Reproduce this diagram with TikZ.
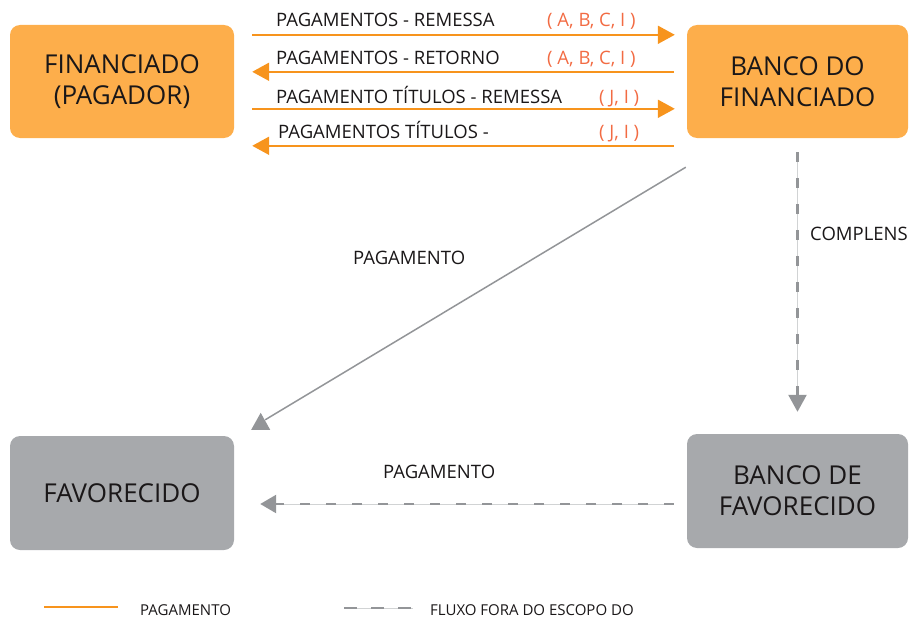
\documentclass[tikz,border=0pt]{standalone}
\usepackage{fontspec}
\setmainfont{Open Sans}
\usetikzlibrary{arrows.meta,calc}
\definecolor{boxor}{HTML}{FDAE4B}
\definecolor{lineor}{HTML}{F7941D}
\definecolor{boxgr}{HTML}{A7A9AC}
\definecolor{linegr}{HTML}{939598}
\definecolor{lightgr}{HTML}{D1D3D4}
\definecolor{redlab}{HTML}{F26B43}
\definecolor{txt}{HTML}{1A1718}
\begin{document}
\begin{tikzpicture}[x=1pt,y=-1pt,
  box/.style={rectangle, rounded corners=10pt, minimum height=113pt, align=center, text=txt, font=\fontsize{26}{31}\selectfont, inner sep=0pt},
  obox/.style={box, fill=boxor},
  gbox/.style={box, fill=boxgr},
  oarr/.style={draw=lineor, line width=2pt, -{Triangle[length=17pt,width=18pt]}},
  garr/.style={draw=linegr, line width=2.5pt, dash pattern=on 10pt off 16pt, -{Triangle[length=17pt,width=18pt]}},
  gthin/.style={draw=lightgr, line width=0.7pt},
  lab/.style={anchor=base west, inner sep=0pt, text=txt, font=\fontsize{18.5}{22}\selectfont},
  rlab/.style={lab, text=redlab},
  leg/.style={anchor=base west, inner sep=0pt, text=txt, font=\fontsize{15}{18}\selectfont}
]
\useasboundingbox (0,0) rectangle (910,618);

% boxes
\node[obox, minimum width=224pt] (fin) at (122,81.5) {FINANCIADO\\(PAGADOR)};
\node[obox, minimum width=221pt] (bf) at (797.5,81.5) {BANCO DO\\FINANCIADO};
\node[gbox, minimum width=224pt, minimum height=114pt] (fav) at (122,493) {FAVORECIDO};
\node[gbox, minimum width=221pt, minimum height=114pt] (bfav) at (797.5,491) {BANCO DE\\FAVORECIDO};

% orange arrows
\draw[oarr, shorten <=18pt, shorten >=12pt] ([yshift=-10pt]fin.north east) -- ([yshift=-10pt]bf.north west);
\draw[oarr, shorten <=13pt, shorten >=18pt] ([yshift=-47pt]bf.north west) -- ([yshift=-47pt]fin.north east);
\draw[oarr, shorten <=18pt, shorten >=12pt] ([yshift=-84pt]fin.north east) -- ([yshift=-84pt]bf.north west);
\draw[oarr, shorten <=13pt, shorten >=18pt] ([yshift=-121pt]bf.north west) -- ([yshift=-121pt]fin.north east);

% labels of orange arrows
\node[lab] (l1) at (276,27) {PAGAMENTOS - REMESSA};
\node[rlab] (r1) at (547,27) {( A, B, C, I )};
\node[lab] (l2) at (276,64) {PAGAMENTOS - RETORNO};
\node[rlab] (r2) at (547,64) {( A, B, C, I )};
\node[lab] (l3) at (276,103) {PAGAMENTO TÍTULOS - REMESSA};
\node[rlab] (r3) at (599,103) {( J, I )};
\node[lab] (l4) at (278,138) {PAGAMENTOS TÍTULOS -};
\node[rlab] (r4) at (599,138) {( J, I )};

% diagonal payment
\coordinate (dstart) at ([shift={(-1pt,-29pt)}]bf.south west);
\coordinate (dend) at ([shift={(31pt,16pt)}]fav.north east);
\draw[linegr, line width=1.5pt] (dstart) -- (dend);
\fill[linegr] ([shift={(26.5pt,23pt)}]fav.north east) -- ([shift={(36pt,6pt)}]fav.north east) -- ([shift={(17pt,6pt)}]fav.north east) -- cycle;
\node[lab] (pd) at (353,264) {PAGAMENTO};

% vertical dashed
\draw[gthin, shorten <=14pt, shorten >=30pt] (bf.south) -- (bfav.north);
\draw[garr, shorten <=14pt, shorten >=22pt] (bf.south) -- (bfav.north);
\node[lab] (cp) at (810,240) {COMPLENS};

% horizontal dashed
\draw[gthin, shorten <=13pt, shorten >=34pt] ([yshift=-13pt]bfav.west) -- ([yshift=-11pt]fav.east);
\draw[garr, shorten <=13pt, shorten >=26pt, -{Triangle[length=16pt,width=18pt]}] ([yshift=-13pt]bfav.west) -- ([yshift=-11pt]fav.east);
\node[lab] (ph) at (383,478) {PAGAMENTO};

% legend
\coordinate (lo1) at (44,607);
\coordinate (lo2) at (118,607);
\draw[lineor, line width=2pt] (lo1) -- (lo2);
\node[leg] (lt1) at (140,615) {PAGAMENTO};
\coordinate (lg1) at (344,608);
\coordinate (lg2) at (413,608);
\draw[gthin] (lg1) -- (lg2);
\draw[linegr, line width=2.5pt, dash pattern=on 13pt off 14pt] (lg1) -- (lg2);
\node[leg] (lt2) at (430,615) {FLUXO FORA DO ESCOPO DO};
\end{tikzpicture}
\end{document}
